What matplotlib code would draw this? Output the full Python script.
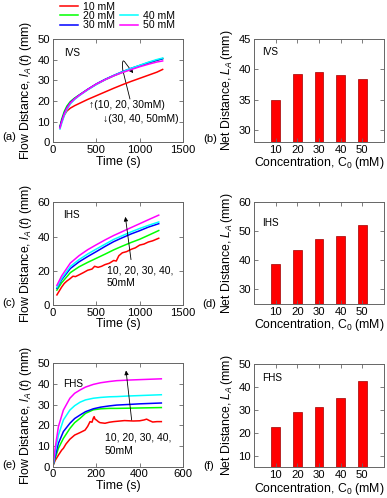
import numpy as np
import matplotlib
matplotlib.use("Agg")
import matplotlib.pyplot as plt
from matplotlib.lines import Line2D
from matplotlib.patches import FancyArrowPatch
from matplotlib.path import Path

plt.rcParams['font.family'] = ['Liberation Sans', 'DejaVu Sans']
plt.rcParams['mathtext.fontset'] = 'custom'
plt.rcParams['mathtext.rm'] = 'Liberation Sans'
plt.rcParams['mathtext.it'] = 'Liberation Sans:italic'

# ---------------- data ----------------
labels = ['10 mM', '20 mM', '30 mM', '40 mM', '50 mM']
colors = ['#ff0000', '#00ff00', '#0000ff', '#00ffff', '#ff00ff']
conc = [10, 20, 30, 40, 50]

# (a) IVS
t_a = [80, 100, 130, 160, 200, 250, 300, 400, 500, 600, 700, 800, 900, 1000, 1100, 1200, 1265]
a_10 = [7.5, 10.2, 13.2, 15.2, 16.6, 17.8, 18.8, 20.8, 22.6, 24.4, 26.2, 27.9, 29.5, 31.0, 32.5, 34.0, 35.3]
a_20 = [7.5, 11.2, 15.0, 17.6, 19.8, 21.5, 22.9, 25.6, 28.1, 30.3, 32.2, 33.9, 35.5, 37.0, 38.4, 39.7, 40.5]
a_30 = [7.5, 10.5, 14.2, 16.8, 19.3, 21.2, 22.8, 25.7, 28.3, 30.5, 32.4, 34.2, 35.8, 37.2, 38.6, 39.8, 40.5]
a_40 = [6.5, 9.2, 13.0, 15.8, 18.6, 20.8, 22.5, 25.4, 28.0, 30.3, 32.3, 34.1, 35.8, 37.3, 38.8, 40.1, 40.8]
a_50 = [7.0, 10.0, 13.8, 16.5, 19.1, 21.1, 22.7, 25.6, 28.2, 30.3, 32.2, 33.8, 35.2, 36.6, 37.8, 38.9, 39.4]

# (c) IHS
t_c = [45, 100, 200, 300, 400, 500, 600, 700, 800, 900, 1000, 1100, 1220]
c_20 = [8.7, 13.0, 18.9, 22.3, 24.9, 27.3, 29.7, 32.2, 34.4, 36.5, 38.4, 40.7, 43.5]
c_30 = [9.8, 14.8, 21.3, 25.2, 28.3, 31.2, 34.2, 37.0, 39.3, 41.5, 43.4, 45.5, 47.5]
c_40 = [10.3, 15.5, 22.5, 26.5, 29.8, 32.7, 35.5, 38.3, 40.5, 42.7, 44.7, 46.5, 48.5]
c_50 = [11.5, 17.0, 24.5, 28.8, 32.3, 35.2, 38.0, 40.6, 42.9, 45.2, 47.5, 49.8, 52.5]
t_c10 = [45, 70, 100, 130, 160, 200, 230, 260, 300, 350, 400, 450, 480, 520, 560, 600,
         650, 700, 730, 760, 800, 850, 900, 950, 1000, 1050, 1100, 1150, 1220]
c_10 = [5.9, 8.0, 10.5, 12.6, 14.0, 15.5, 16.8, 16.6, 17.6, 18.9, 20.3, 21.0, 22.6, 22.0, 22.6, 23.6,
        24.4, 26.0, 25.7, 28.8, 30.5, 31.2, 32.5, 33.4, 35.0, 35.6, 36.8, 37.5, 39.0]

# (e) FHS
t_e = [0, 10, 25, 48, 78, 100, 125, 150, 186, 220, 260, 294, 350, 400, 450, 500]
e_20 = [0.5, 4.0, 8.9, 13.7, 18.5, 21.3, 23.4, 25.8, 27.5, 28.0, 28.2, 28.2, 28.3, 28.4, 28.5, 28.6]
e_30 = [0.5, 5.0, 11.3, 17.0, 21.0, 23.3, 25.0, 26.6, 28.0, 28.8, 29.4, 29.8, 30.1, 30.4, 30.6, 30.8]
e_40 = [0.5, 7.0, 15.3, 22.6, 27.4, 29.5, 31.2, 32.3, 33.1, 33.5, 33.8, 33.9, 34.2, 34.4, 34.6, 34.8]
e_50 = [0.5, 9.0, 19.4, 27.4, 33.1, 35.5, 37.1, 38.5, 39.8, 40.6, 41.2, 41.6, 41.9, 42.1, 42.3, 42.5]
t_e10 = [0, 10, 25, 40, 48, 60, 78, 100, 125, 148, 160, 171, 180, 186, 190, 194, 200, 210, 217,
         240, 260, 280, 300, 330, 371, 400, 420, 432, 445, 460, 480, 500]
e_10 = [0.5, 3.0, 5.6, 8.0, 8.9, 11.0, 13.3, 15.3, 16.5, 17.7, 19.5, 21.8, 21.5, 23.5, 24.2, 23.0, 22.6,
        21.7, 21.3, 21.0, 21.5, 21.8, 22.0, 22.3, 22.1, 22.2, 22.6, 23.0, 22.3, 21.6, 21.8, 21.8]

# bars
net_ivs = [35.0, 39.2, 39.5, 39.0, 38.4]
net_ihs = [38.6, 43.6, 47.5, 48.3, 52.3]
net_fhs = [22.4, 29.2, 31.4, 35.2, 42.7]

# ---------------- figure ----------------
W, H = 387, 498
fig = plt.figure(figsize=(W / 100, H / 100), dpi=100)

FS = 8.1      # tick labels
LFS = 8.8     # axis labels
AFS = 7.5     # annotations
TFS = 7.2     # IVS/IHS/FHS tags
SPC = '#666666'


def px_axes(l, r, t, b):
    return fig.add_axes([l / W, 1 - b / H, (r - l) / W, (b - t) / H])


def style(ax):
    for s in ax.spines.values():
        s.set_color(SPC)
        s.set_linewidth(0.7)
    ax.tick_params(direction='in', top=True, right=True, length=3, width=0.6,
                   color=SPC, labelsize=FS, pad=2)


ax_a = px_axes(53, 183, 39, 142.5)
ax_b = px_axes(254, 384, 39, 142)
ax_c = px_axes(53, 183, 202.3, 305)
ax_d = px_axes(254, 384, 202.3, 304)
ax_e = px_axes(53, 183, 363.3, 466.7)
ax_f = px_axes(254, 384, 364, 467.3)

LW = 1.1
ylab_flow = r'Flow Distance, $l_A\,(t)$ (mm)'
ylab_net = r'Net Distance, $L_A\,$(mm)'
xlab_conc = r'Concentration, C$_0$ (mM)'

# (a)
lines = []
for y, c, lab in zip([a_10, a_20, a_30, a_40, a_50], colors, labels):
    ln, = ax_a.plot(t_a, y, color=c, lw=LW, label=lab)
    lines.append(ln)
ax_a.set_xlim(0, 1500)
ax_a.set_ylim(0, 50)
ax_a.set_xticks([0, 500, 1000, 1500])
ax_a.set_yticks([0, 10, 20, 30, 40, 50])
ax_a.text(130, 43, 'IVS', fontsize=TFS, va='center')
ax_a.text(419, 18.1, '\u2191(10, 20, 30mM)', fontsize=AFS, va='center')
ax_a.text(573, 11.2, '\u2193(30, 40, 50mM)', fontsize=AFS, va='center')
p = Path([(888, 21), (805, 35.0), (790, 41.5), (835, 38.5), (925, 33.5)],
         [Path.MOVETO, Path.LINETO, Path.CURVE3, Path.CURVE3, Path.LINETO])
arr = FancyArrowPatch(path=p, arrowstyle='-|>', mutation_scale=6, lw=0.6,
                      color='k', transform=ax_a.transData)
ax_a.add_patch(arr)

# (c)
ax_c.plot(t_c10, c_10, color=colors[0], lw=LW)
for y, c in zip([c_20, c_30, c_40, c_50], colors[1:]):
    ax_c.plot(t_c, y, color=c, lw=LW)
ax_c.set_xlim(0, 1500)
ax_c.set_ylim(0, 60)
ax_c.set_xticks([0, 500, 1000, 1500])
ax_c.set_yticks([0, 20, 40, 60])
ax_c.text(120, 52.6, 'IHS', fontsize=TFS, va='center')
ax_c.text(619, 20, '10, 20, 30, 40,', fontsize=AFS, va='center')
ax_c.text(619, 12.7, '50mM', fontsize=AFS, va='center')
ax_c.annotate('', xy=(835, 51.5), xytext=(900, 26.5),
              arrowprops=dict(arrowstyle='-|>', mutation_scale=6, lw=0.6, color='k',
                              shrinkA=0, shrinkB=0))

# (e)
ax_e.plot(t_e10, e_10, color=colors[0], lw=LW)
for y, c in zip([e_20, e_30, e_40, e_50], colors[1:]):
    ax_e.plot(t_e, y, color=c, lw=LW)
ax_e.set_xlim(0, 600)
ax_e.set_ylim(0, 50)
ax_e.set_xticks([0, 200, 400, 600])
ax_e.set_yticks([0, 10, 20, 30, 40, 50])
ax_e.text(48, 39.8, 'FHS', fontsize=TFS, va='center')
ax_e.text(240, 14.2, '10, 20, 30, 40,', fontsize=AFS, va='center')
ax_e.text(240, 7.7, '50mM', fontsize=AFS, va='center')
ax_e.annotate('', xy=(337, 46.5), xytext=(363, 22.6),
              arrowprops=dict(arrowstyle='-|>', mutation_scale=6, lw=0.6, color='k',
                              shrinkA=0, shrinkB=0))

for ax in (ax_a, ax_c, ax_e):
    style(ax)
    ax.set_ylabel(ylab_flow, fontsize=LFS, labelpad=2.5)
    ax.set_xlabel('Time (s)', fontsize=LFS, labelpad=0.5)

# bars
pos = np.arange(1, 6)
for ax, vals, lim, ticks, tag, ty in [
        (ax_b, net_ivs, (28, 45), [30, 35, 40, 45], 'IVS', 42.9),
        (ax_d, net_ihs, (25, 60), [30, 40, 50, 60], 'IHS', 52.8),
        (ax_f, net_fhs, (5, 50), [10, 20, 30, 40, 50], 'FHS', 43.8)]:
    ax.bar(pos, vals, width=0.4, color='#ff0000', edgecolor='#a00000', linewidth=0.5)
    ax.set_xlim(0, 6)
    ax.set_ylim(*lim)
    ax.set_yticks(ticks)
    ax.set_xticks(pos)
    ax.set_xticklabels([str(c) for c in conc])
    style(ax)
    ax.text(0.38, ty, tag, fontsize=TFS, va='center')
    ax.set_ylabel(ylab_net, fontsize=LFS, labelpad=2.5)
    ax.set_xlabel(xlab_conc, fontsize=LFS, labelpad=0.5)

# panel letters
for s, x, y in [('(a)', 2, 137), ('(b)', 203, 139), ('(c)', 2, 303), ('(d)', 202, 304),
                ('(e)', 2, 465), ('(f)', 203, 466)]:
    fig.text(x / W, 1 - y / H, s, fontsize=FS, va='center', ha='left')

# legend
blank = Line2D([], [], color='none')
handles = [lines[0], lines[1], lines[2], blank, lines[3], lines[4]]
labs = [labels[0], labels[1], labels[2], '', labels[3], labels[4]]
fig.legend(handles, labs, ncol=2, loc='upper left', bbox_to_anchor=(60 / W, 1 - 1.5 / H),
           frameon=False, fontsize=7.6, handlelength=1.7, handletextpad=0.45,
           columnspacing=0.5, labelspacing=-0.05, borderpad=0.0, borderaxespad=0.0)

fig.savefig('out.png', dpi=100)
